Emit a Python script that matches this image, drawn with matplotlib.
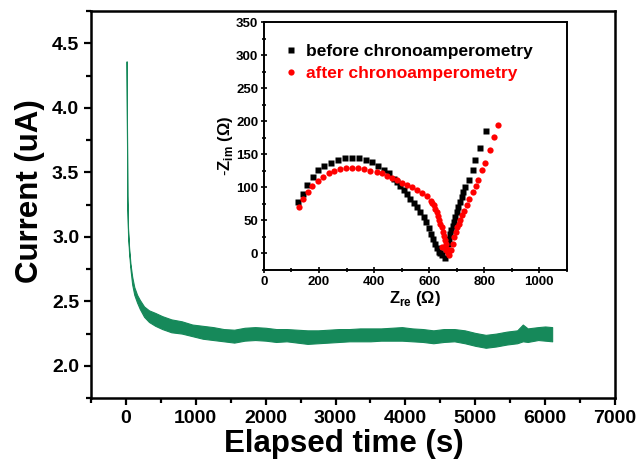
import matplotlib
matplotlib.use("Agg")
import matplotlib.pyplot as plt
from matplotlib.ticker import MultipleLocator

plt.rcParams['font.family'] = ['Liberation Sans', 'DejaVu Sans']
plt.rcParams['font.weight'] = 'bold'
plt.rcParams['mathtext.fontset'] = 'custom'
plt.rcParams['mathtext.rm'] = 'Liberation Sans'
plt.rcParams['mathtext.bf'] = 'Liberation Sans:bold'

# chronoamperometry trace: time (s) with upper / lower edge of the noisy current band (uA)
time_s = [10, 15, 20, 30, 45, 65, 90, 120, 160, 200, 260, 330, 420, 520, 650, 800,
          950, 1100, 1250, 1400, 1550, 1700, 1850, 2000, 2150, 2300, 2450, 2600,
          2750, 2900, 3050, 3200, 3350, 3500, 3650, 3800, 3950, 4100, 4250, 4400,
          4550, 4700, 4850, 5000, 5150, 5300, 5450, 5600, 5680, 5750, 5900, 6000, 6100]
current_hi = [4.36, 3.87, 3.32, 3.07, 2.92, 2.79, 2.69, 2.61, 2.55, 2.51, 2.46, 2.43,
              2.41, 2.385, 2.36, 2.345, 2.32, 2.31, 2.30, 2.285, 2.28, 2.295, 2.30,
              2.295, 2.285, 2.285, 2.28, 2.275, 2.275, 2.28, 2.285, 2.285, 2.29, 2.29,
              2.29, 2.295, 2.30, 2.29, 2.285, 2.275, 2.285, 2.285, 2.275, 2.255, 2.24,
              2.25, 2.265, 2.275, 2.32, 2.29, 2.30, 2.305, 2.30]
current_lo = [4.34, 3.83, 3.28, 3.03, 2.88, 2.75, 2.63, 2.55, 2.49, 2.44, 2.38, 2.34,
              2.31, 2.285, 2.26, 2.25, 2.23, 2.21, 2.20, 2.19, 2.18, 2.195, 2.20,
              2.195, 2.185, 2.19, 2.18, 2.17, 2.175, 2.18, 2.185, 2.19, 2.19, 2.19,
              2.195, 2.195, 2.195, 2.19, 2.185, 2.175, 2.185, 2.19, 2.175, 2.155, 2.14,
              2.15, 2.165, 2.175, 2.19, 2.185, 2.20, 2.195, 2.19]

# impedance spectra (Nyquist), before chronoamperometry
zre_before = [125, 141, 158, 178, 198, 220, 245, 270, 296, 321, 347, 372, 394, 416,
              435, 454, 472, 484, 496, 508, 520, 532, 544, 556, 568, 580, 590, 600,
              608, 615, 622, 628, 634, 640, 648, 657, 662, 667, 672, 676, 680, 685,
              690, 695, 700, 706, 712, 718, 724, 730, 743, 758, 766, 786, 808]
zim_before = [78, 90, 103, 116, 126, 132, 137, 141, 144, 145, 145, 142, 138, 133,
              127, 121, 113, 108, 102, 96, 90, 83, 77, 70, 63, 55, 47, 38,
              30, 22, 14, 8, 3, 0, -3, -7, 5, 15, 22, 30, 36, 42,
              48, 55, 62, 70, 78, 86, 93, 100, 111, 127, 142, 160, 185]

# impedance spectra (Nyquist), after chronoamperometry
zre_after = [128, 143, 159, 176, 195, 214, 235, 255, 277, 299, 321, 343, 365, 387,
             409, 430, 448, 466, 484, 502, 521, 539, 557, 575, 591, 606, 612, 618,
             623, 628, 632, 636, 641, 645, 650, 654, 658, 662, 666, 669, 672, 645,
             660, 678, 685, 691, 696, 701, 707, 713, 719, 725, 736, 746, 758, 770,
             779, 791, 804, 822, 834, 851]
zim_after = [70, 83, 93, 102, 110, 116, 121, 125, 128, 130, 130, 129, 128, 125,
             123, 121, 117, 114, 111, 107, 104, 100, 96, 92, 87, 80, 77, 73,
             68, 63, 57, 50, 45, 40, 33, 27, 21, 14, 7, 1, -2, 10,
             5, 5, 15, 25, 32, 40, 45, 50, 58, 65, 74, 83, 93, 102,
             111, 126, 137, 156, 176, 194]

green = '#16895a'

fig = plt.figure(figsize=(6.42, 4.70), dpi=100)
ax = fig.add_axes([0.1417, 0.153, 0.8163, 0.8236])

ax.fill_between(time_s, current_lo, current_hi, color=green, lw=0.8, edgecolor=green)

ax.set_xlim(-500, 7000)
ax.set_ylim(1.75, 4.75)
ax.xaxis.set_major_locator(MultipleLocator(1000))
ax.xaxis.set_minor_locator(MultipleLocator(500))
ax.yaxis.set_major_locator(MultipleLocator(0.5))
ax.yaxis.set_minor_locator(MultipleLocator(0.25))
ax.tick_params(which='both', direction='out', top=False, right=False,
               labelsize=14, width=1.6)
ax.tick_params(which='major', length=5)
ax.tick_params(which='minor', length=3.5)
for s in ax.spines.values():
    s.set_linewidth(1.8)
ax.set_xlabel('Elapsed time (s)', fontsize=22.5, fontweight='bold')
ax.set_ylabel('Current (uA)', fontsize=22.5, fontweight='bold')
ax.xaxis.set_label_coords(0.483, -0.08)
ax.yaxis.set_label_coords(-0.087, 0.535)

# inset: Nyquist plot
ins = fig.add_axes([0.411, 0.4255, 0.472, 0.5275])
ins.plot(zre_before, zim_before, 's', color='black', ms=4.2, mec='none',
         label='before chronoamperometry')
ins.plot(zre_after, zim_after, 'o', color='red', ms=4.5, mec='none',
         label='after chronoamperometry')
ins.set_xlim(0, 1100)
ins.set_ylim(-25, 350)
ins.xaxis.set_major_locator(MultipleLocator(200))
ins.xaxis.set_minor_locator(MultipleLocator(100))
ins.yaxis.set_major_locator(MultipleLocator(50))
ins.yaxis.set_minor_locator(MultipleLocator(25))
ins.tick_params(which='both', direction='inout', top=False, right=False,
                labelsize=9.5, width=1.2, pad=1.5)
ins.tick_params(which='major', length=5)
ins.tick_params(which='minor', length=3)
for s in ins.spines.values():
    s.set_linewidth(1.4)
ins.set_xlabel(r'$\mathbf{Z}_{\mathbf{re}}$ $(\Omega)$', fontsize=12, labelpad=1)
ins.set_ylabel(r'-$\mathbf{Z}_{\mathbf{im}}$ $(\Omega)$', fontsize=12, labelpad=1)
leg = ins.legend(loc='upper left', bbox_to_anchor=(0.02, 0.975), frameon=False,
                 fontsize=12.5, handlelength=0.6, handletextpad=0.6,
                 labelspacing=0.4, markerscale=1.0,
                 labelcolor=['black', 'red'])

fig.savefig('out.png', dpi=100)
